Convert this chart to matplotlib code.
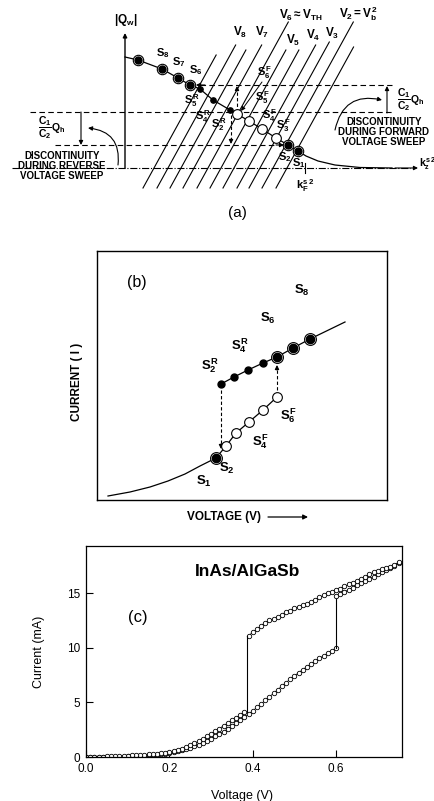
import numpy as np
import matplotlib.pyplot as plt

plt.rcParams['font.family'] = ['Liberation Sans', 'DejaVu Sans']
plt.rcParams['mathtext.fontset'] = 'custom'
plt.rcParams['mathtext.rm'] = 'Liberation Sans:bold'
plt.rcParams['mathtext.it'] = 'Liberation Sans:bold'
plt.rcParams['mathtext.bf'] = 'Liberation Sans:bold'
plt.rcParams['mathtext.sf'] = 'Liberation Sans:bold'

# ---------------- (a) |Q_w| vs k_z^s2 (schematic, pixel units) ----------------
qa_x = [125, 138, 162, 178, 190, 200, 213, 230, 237, 249, 262, 276, 288, 298, 306, 318, 335, 360, 392]
qa_y = [57, 60, 69, 78, 85, 89, 100, 110, 114, 121, 129, 138, 145, 151, 156, 161, 165, 167.5, 168]
ringed_a_x = [138, 162, 178, 190, 288, 298]
ringed_a_y = [60, 69, 78, 85, 145, 151]
dots_a_x = [200, 213, 230]
dots_a_y = [89, 100, 110]
open_a_x = [237, 249, 262, 276]
open_a_y = [114, 121, 129, 138]
vline_bottom = [143, 157, 170, 183, 197, 210, 223, 237, 249, 262, 276]
vline_top = [55, 45, 50, 45, 22, 50, 50, 45, 42, 22, 47]
v_labels = [r'$V_8$', r'$V_7$', r'$V_6 \approx V_{TH}$', r'$V_5$', r'$V_4$', r'$V_3$', r'$V_2 = V_b^2$']
v_label_x = [240, 262, 301, 293, 313, 332, 358]
v_label_y = [32, 32, 15, 40, 35, 33, 14]
s_labels_a = [r'$S_8$', r'$S_7$', r'$S_6$', r'$S_5^R$', r'$S_4^R$', r'$S_2^R$',
              r'$S_6^F$', r'$S_5^F$', r'$S_4^F$', r'$S_3^F$', r'$S_2$', r'$S_1$']
s_label_a_x = [163, 179, 196, 192, 203, 219, 264, 262, 269, 283, 285, 299]
s_label_a_y = [53, 62, 70, 101, 117, 125, 73, 98, 116, 126, 157, 163]

# ---------------- (b) I-V schematic (pixel units) ----------------
b_curve_x = [108, 130, 150, 168, 185, 200, 216]
b_curve_y = [496, 492, 487, 481, 474, 466, 458]
b_open_x = [216, 226, 236, 249, 263, 277]
b_open_y = [458, 446, 433, 422, 410, 397]
b_upper_x = [221, 234, 248, 263, 277, 293, 310, 345]
b_upper_y = [384, 377, 370, 363, 357, 348, 339, 322]
s_labels_b = [r'$S_8$', r'$S_6$', r'$S_4^R$', r'$S_2^R$', r'$S_6^F$', r'$S_4^F$', r'$S_2$', r'$S_1$']
s_label_b_x = [302, 268, 240, 210, 289, 261, 227, 204]
s_label_b_y = [290, 318, 346, 366, 416, 442, 468, 481]

# ---------------- (c) InAs/AlGaSb measured I-V ----------------
v_fwd_low = np.round(np.arange(0.0, 0.605, 0.01), 2)
i_fwd_low = [0.0, 0.0, 0.0, 0.0, 0.01, 0.01, 0.02, 0.02, 0.03, 0.04,
             0.05, 0.06, 0.08, 0.10, 0.12, 0.15, 0.18, 0.22, 0.26, 0.31,
             0.37, 0.44, 0.52, 0.61, 0.72, 0.84, 0.98, 1.13, 1.30, 1.48,
             1.68, 1.88, 2.10, 2.33, 2.57, 2.82, 3.08, 3.35, 3.63, 3.92,
             4.22, 4.53, 4.85, 5.17, 5.50, 5.83, 6.16, 6.49, 6.81, 7.12,
             7.42, 7.71, 7.99, 8.26, 8.52, 8.77, 9.02, 9.26, 9.50, 9.74, 9.98]
v_fwd_high = np.round(np.arange(0.60, 0.755, 0.01), 2)
i_fwd_high = [14.7, 14.9, 15.1, 15.3, 15.5, 15.7, 15.9, 16.1, 16.3, 16.5,
              16.7, 16.9, 17.1, 17.3, 17.5, 17.7]
v_rev_high = np.round(np.arange(0.75, 0.385, -0.01), 2)
i_rev_high = [17.8, 17.6, 17.4, 17.3, 17.2, 17.0, 16.9, 16.7, 16.5, 16.3,
              16.1, 15.9, 15.8, 15.6, 15.4, 15.3, 15.1, 15.0, 14.8, 14.6,
              14.4, 14.2, 14.0, 13.9, 13.7, 13.6, 13.4, 13.3, 13.0, 12.8,
              12.6, 12.5, 12.3, 12.0, 11.7, 11.4, 11.1]
v_rev_low = np.round(np.arange(0.38, -0.005, -0.01), 2)
i_rev_low = [4.1, 3.85, 3.6, 3.35, 3.1, 2.85, 2.6, 2.35, 2.1, 1.88,
             1.66, 1.45, 1.25, 1.07, 0.9, 0.76, 0.64, 0.54, 0.46, 0.40,
             0.35, 0.31, 0.28, 0.25, 0.22, 0.19, 0.16, 0.14, 0.12, 0.10,
             0.08, 0.07, 0.06, 0.05, 0.04, 0.03, 0.03, 0.02, 0.02]
v_jump_fwd = 0.60
v_jump_rev = 0.385


def arrow(ax, x0, y0, x1, y1, dashed=False, lw=0.8, ms=6):
    """line from (x0,y0) to (x1,y1) with a solid head at (x1,y1)"""
    d = np.hypot(x1 - x0, y1 - y0)
    ux, uy = (x1 - x0) / d, (y1 - y0) / d
    if dashed:
        ax.plot([x0, x1 - 4 * ux], [y0, y1 - 4 * uy], color='k', lw=lw, dashes=(3, 2))
        x0, y0 = x1 - 5 * ux, y1 - 5 * uy
    ax.annotate('', xy=(x1, y1), xytext=(x0, y0),
                arrowprops=dict(arrowstyle='-|>', color='k', lw=lw,
                                mutation_scale=ms, shrinkA=0, shrinkB=0))


def ringed(ax, xs, ys, inner, outer):
    ax.plot(xs, ys, 'o', ms=outer, mfc='white', mec='k', mew=0.8, ls='none', zorder=4)
    ax.plot(xs, ys, 'o', ms=inner, color='k', ls='none', zorder=5)


fig = plt.figure(figsize=(4.35, 8.01), dpi=100)

# ===== panel (a) =====
ax_a = fig.add_axes([0, 1 - 230 / 801, 1, 230 / 801])
ax_a.set_xlim(0, 435)
ax_a.set_ylim(230, 0)
ax_a.axis('off')

# axes of the sketch
arrow(ax_a, 125, 168, 125, 33, lw=1.0)
ax_a.text(126, 20, r'$|Q_w|$', fontsize=8.5, ha='center', va='center')
ax_a.plot([12, 410], [168, 168], color='k', lw=0.8, ls='-.')
arrow(ax_a, 395, 168, 418, 168, lw=0.8)
ax_a.text(419, 164, r'$k_z^{s\,2}$', fontsize=7.5, ha='left', va='center')
ax_a.plot([305, 305], [163, 173], color='k', lw=0.8)
ax_a.text(305, 186, r'$k_F^{s\,2}$', fontsize=8, ha='center', va='center')

# family of slanted voltage lines
for xb, yt in zip(vline_bottom, vline_top):
    ax_a.plot([xb, xb + 0.55 * (188 - yt)], [188, yt], color='k', lw=0.8)
for lab, x, y in zip(v_labels, v_label_x, v_label_y):
    ax_a.text(x, y, lab, fontsize=8.5, ha='center', va='center')

# dashed levels
ax_a.plot([200, 392], [85, 85], color='k', lw=0.8, dashes=(5, 3))
ax_a.plot([30, 392], [112, 112], color='k', lw=0.8, dashes=(5, 3))
ax_a.plot([55, 276], [145, 145], color='k', lw=0.8, dashes=(5, 3))
arrow(ax_a, 276, 145, 284, 145)
arrow(ax_a, 205, 85, 196, 85)
arrow(ax_a, 237, 112, 237, 86, dashed=True)
arrow(ax_a, 231, 115, 231, 144, dashed=True)
arrow(ax_a, 262, 82, 241, 111, lw=0.7)

# the charge curve
ax_a.plot(qa_x, qa_y, color='k', lw=0.9, zorder=3)
ax_a.plot(open_a_x, open_a_y, 'o', ms=7, mfc='white', mec='k', mew=0.8, zorder=4)
ax_a.plot(dots_a_x, dots_a_y, 'o', ms=3.8, color='k', zorder=4)
ringed(ax_a, ringed_a_x, ringed_a_y, 5, 7.5)
for lab, x, y in zip(s_labels_a, s_label_a_x, s_label_a_y):
    ax_a.text(x, y, lab, fontsize=8, ha='center', va='center')

# discontinuity annotations
arrow(ax_a, 81, 112, 81, 145)
ax_a.text(52, 128, r'$\dfrac{C_1}{C_2}Q_h$', fontsize=7.5, ha='center', va='center')
ax_a.text(62, 166, 'DISCONTINUITY\nDURING REVERSE\nVOLTAGE SWEEP', fontsize=7,
          fontweight='bold', ha='center', va='center', linespacing=1.05)
ax_a.annotate('', xy=(88, 128), xytext=(118, 165),
              arrowprops=dict(arrowstyle='-|>', color='k', lw=0.8, mutation_scale=6,
                              shrinkA=0, shrinkB=0, connectionstyle='arc3,rad=0.5'))
arrow(ax_a, 387, 113, 387, 86)
ax_a.text(411, 100, r'$\dfrac{C_1}{C_2}Q_h$', fontsize=7.5, ha='center', va='center')
ax_a.text(384, 132, 'DISCONTINUITY\nDURING FORWARD\nVOLTAGE SWEEP', fontsize=7,
          fontweight='bold', ha='center', va='center', linespacing=1.05)
ax_a.annotate('', xy=(382, 100), xytext=(335, 130),
              arrowprops=dict(arrowstyle='-|>', color='k', lw=0.8, mutation_scale=6,
                              shrinkA=0, shrinkB=0, connectionstyle='arc3,rad=-0.5'))
ax_a.text(237, 213, '(a)', fontsize=11, ha='center', va='center')

# ===== panel (b) =====
ax_b = fig.add_axes([97 / 435, 1 - 500 / 801, 290 / 435, 249 / 801])
ax_b.set_xlim(97, 387)
ax_b.set_ylim(500, 251)
ax_b.set_xticks([])
ax_b.set_yticks([])
for s in ax_b.spines.values():
    s.set_linewidth(1.0)

ax_b.plot(b_curve_x, b_curve_y, color='k', lw=0.9)
ax_b.plot(b_open_x, b_open_y, color='k', lw=0.9, zorder=3)
ax_b.plot(b_open_x[1:], b_open_y[1:], 'o', ms=7, mfc='white', mec='k', mew=0.8, zorder=4)
ax_b.plot(b_upper_x, b_upper_y, color='k', lw=0.9, zorder=3)
ax_b.plot(b_upper_x[:4], b_upper_y[:4], 'o', ms=5, color='k', zorder=4)
ringed(ax_b, b_upper_x[4:7] + [b_open_x[0]], b_upper_y[4:7] + [b_open_y[0]], 6, 8.5)
arrow(ax_b, 221, 390, 221, 449, dashed=True)
arrow(ax_b, 277, 390, 277, 365, dashed=True)
for lab, x, y in zip(s_labels_b, s_label_b_x, s_label_b_y):
    ax_b.text(x, y, lab, fontsize=9.5, ha='center', va='center')
ax_b.text(137, 283, '(b)', fontsize=11.5, ha='center', va='center')
ax_b.text(77, 382, 'CURRENT ( I )', fontsize=8.5, fontweight='bold', rotation=90,
          ha='center', va='center', clip_on=False)
ax_b.text(224, 517, 'VOLTAGE (V)', fontsize=8.5, fontweight='bold',
          ha='center', va='center', clip_on=False)
ax_b.annotate('', xy=(308, 517), xytext=(268, 517), annotation_clip=False,
              arrowprops=dict(arrowstyle='-|>', color='k', lw=0.9, mutation_scale=7,
                              shrinkA=0, shrinkB=0))

# ===== panel (c) =====
ax_c = fig.add_axes([86 / 435, 1 - 757 / 801, 316 / 435, 211 / 801])
mk = dict(marker='o', ms=3.2, mfc='white', mec='k', mew=0.6, lw=0.6, color='k')
ax_c.plot(v_fwd_low, i_fwd_low, **mk)
ax_c.plot([v_jump_fwd, v_jump_fwd], [i_fwd_low[-1], i_fwd_high[0]], color='k', lw=0.8)
ax_c.plot(v_fwd_high, i_fwd_high, **mk)
ax_c.plot(v_rev_high, i_rev_high, **mk)
ax_c.plot([v_jump_rev, v_jump_rev], [i_rev_high[-1], i_rev_low[0]], color='k', lw=0.8)
ax_c.plot(v_rev_low, i_rev_low, **mk)
ax_c.set_xlim(0, 0.758)
ax_c.set_ylim(0, 19.3)
ax_c.set_xticks([0.0, 0.2, 0.4, 0.6])
ax_c.set_yticks([0, 5, 10, 15])
ax_c.xaxis.set_major_formatter(plt.FormatStrFormatter('%.1f'))
ax_c.tick_params(direction='in', length=5, width=0.8, labelsize=8.5, pad=4)
for s in ax_c.spines.values():
    s.set_linewidth(0.9)
ax_c.set_xlabel('Voltage (V)', fontsize=9)
ax_c.set_ylabel('Current (mA)', fontsize=9)
ax_c.xaxis.set_label_coords(0.494, -0.156)
ax_c.yaxis.set_label_coords(-0.13, 0.5)
ax_c.text(0.51, 0.88, 'InAs/AlGaSb', transform=ax_c.transAxes, fontsize=12.5,
          fontweight='bold', ha='center', va='center')
ax_c.text(0.165, 0.66, '(c)', transform=ax_c.transAxes, fontsize=12,
          ha='center', va='center')

fig.savefig('out.png', dpi=100)
